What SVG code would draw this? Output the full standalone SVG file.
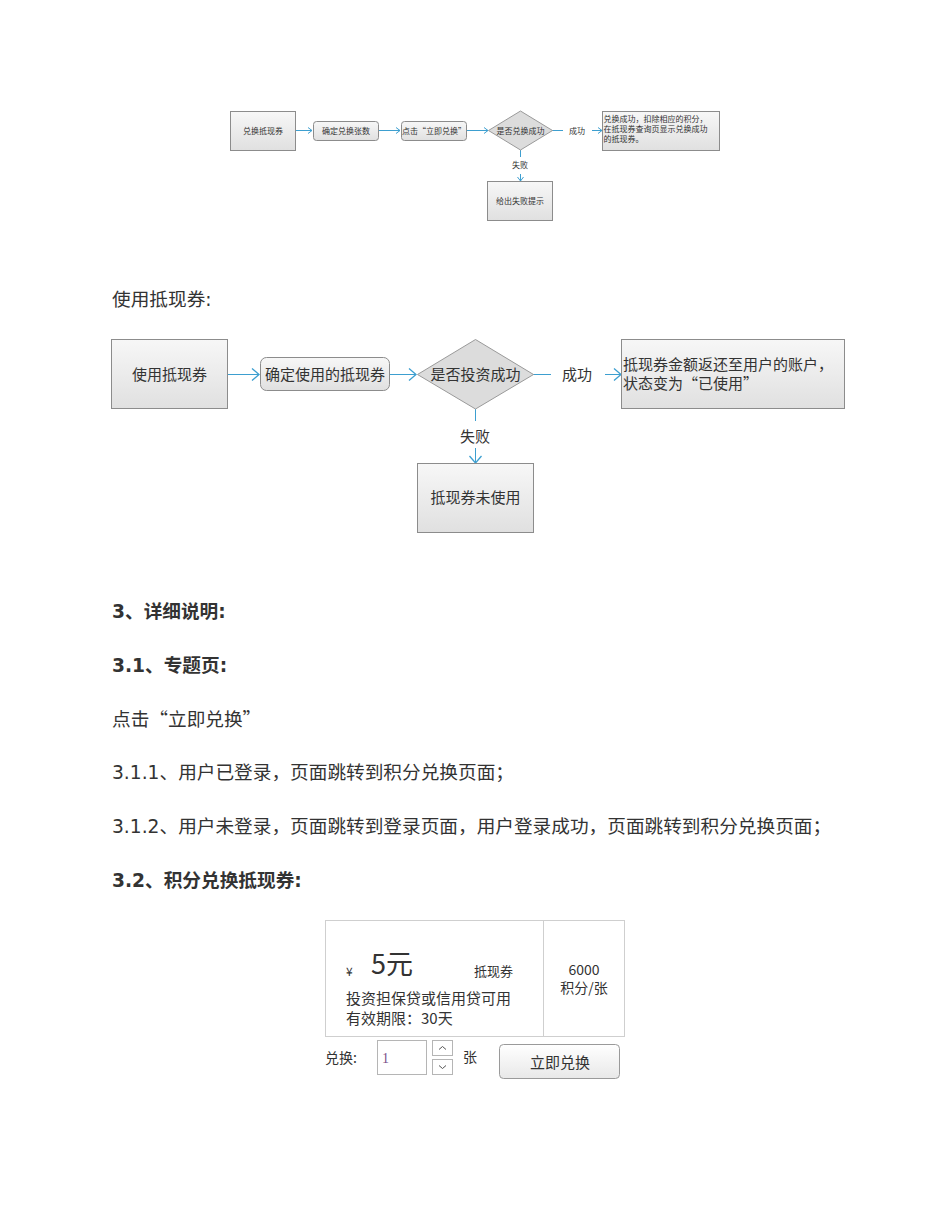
<svg xmlns="http://www.w3.org/2000/svg" width="950" height="1230" viewBox="0 0 950 1230">
<style>
.doc{font-family:"DejaVu Sans","Noto Sans CJK SC",sans-serif;font-size:18.67px;fill:#333}
.b{font-weight:bold}
.cj{font-family:"Noto Sans CJK SC",sans-serif}
.fc{font-family:"Noto Sans CJK SC","Liberation Sans",sans-serif;fill:#333}
.s{font-size:8px}
.l{font-size:15px}
.box{fill:url(#g);stroke:#8c8c8c;stroke-width:1}
.dia{fill:#dcdcdc;stroke:#9a9a9a;stroke-width:1}
.con{stroke:#3d9fd0;stroke-width:1;fill:none}
.ui{font-family:"Noto Sans CJK SC","Liberation Sans",sans-serif;fill:#333}
</style>
<defs>
<linearGradient id="g" x1="0" y1="0" x2="0" y2="1"><stop offset="0" stop-color="#f7f7f7"/><stop offset="1" stop-color="#e0e0e0"/></linearGradient>
<linearGradient id="bt" x1="0" y1="0" x2="0" y2="1"><stop offset="0" stop-color="#ffffff"/><stop offset="1" stop-color="#e8e8e8"/></linearGradient>
<marker id="aS" markerWidth="8" markerHeight="8" refX="5" refY="4" orient="auto" markerUnits="userSpaceOnUse"><path d="M1,1 L5,4 L1,7" fill="none" stroke="#3d9fd0" stroke-width="1"/></marker>
<marker id="aL" markerWidth="12" markerHeight="14" refX="8" refY="7" orient="auto" markerUnits="userSpaceOnUse"><path d="M1,1 L8,7 L1,13" fill="none" stroke="#3d9fd0" stroke-width="1.3"/></marker>
</defs>
<rect width="950" height="1230" fill="#fff"/>

<!-- Flowchart 1 -->
<g id="connectors1">
<line class="con" x1="295" y1="130.5" x2="312" y2="130.5" marker-end="url(#aS)"/>
<line class="con" x1="378" y1="130.5" x2="400" y2="130.5" marker-end="url(#aS)"/>
<line class="con" x1="466" y1="130.5" x2="488" y2="130.5" marker-end="url(#aS)"/>
<line class="con" x1="552" y1="130.5" x2="563" y2="130.5"/>
<line class="con" x1="592" y1="130.5" x2="602" y2="130.5" marker-end="url(#aS)"/>
<line class="con" x1="520.5" y1="150" x2="520.5" y2="157"/>
<line class="con" x1="520.5" y1="174" x2="520.5" y2="181" marker-end="url(#aS)"/>
<text class="fc s" x="577" y="133.5" text-anchor="middle">成功</text>
<text class="fc s" x="520" y="168" text-anchor="middle">失败</text>
</g>
<g id="n1"><rect class="box" x="230.5" y="111.5" width="65" height="39"/><text class="fc s" x="263" y="133.5" text-anchor="middle">兑换抵现券</text></g>
<g id="n2"><rect class="box" x="313.5" y="121.5" width="65" height="19" rx="3"/><text class="fc s" x="346" y="133.5" text-anchor="middle">确定兑换张数</text></g>
<g id="n3"><rect class="box" x="401.5" y="121.5" width="65" height="19" rx="3"/><text class="fc s" x="434" y="133.5" text-anchor="middle">点击“立即兑换”</text></g>
<g id="n4"><polygon class="dia" points="520.5,111 552.5,130.5 520.5,150 488.5,130.5"/><text class="fc s" x="520.5" y="133.5" text-anchor="middle">是否兑换成功</text></g>
<g id="n5"><rect class="box" x="602.5" y="111.5" width="117" height="39"/>
<text class="fc s" x="603.5" y="122">兑换成功，扣除相应的积分，</text>
<text class="fc s" x="603.5" y="132">在抵现券查询页显示兑换成功</text>
<text class="fc s" x="603.5" y="142">的抵现券。</text></g>
<g id="n6"><rect class="box" x="487.5" y="181.5" width="65" height="39"/><text class="fc s" x="520" y="203.5" text-anchor="middle">给出失败提示</text></g>

<text class="doc" x="112" y="306">使用抵现券:</text>

<!-- Flowchart 2 -->
<g id="connectors2">
<line class="con" x1="227" y1="374.5" x2="259" y2="374.5" marker-end="url(#aL)"/>
<line class="con" x1="389" y1="374.5" x2="416" y2="374.5" marker-end="url(#aL)"/>
<line class="con" x1="533" y1="374.5" x2="551" y2="374.5"/>
<line class="con" x1="605" y1="374.5" x2="621" y2="374.5" marker-end="url(#aL)"/>
<line class="con" x1="475.5" y1="409" x2="475.5" y2="421"/>
<line class="con" x1="475.5" y1="448" x2="475.5" y2="463" marker-end="url(#aL)"/>
<text class="fc l" x="577" y="380" text-anchor="middle">成功</text>
<text class="fc l" x="475" y="442" text-anchor="middle">失败</text>
</g>
<g id="m1"><rect class="box" x="111.5" y="339.5" width="116" height="69"/><text class="fc l" x="169.5" y="380" text-anchor="middle">使用抵现券</text></g>
<g id="m2"><rect class="box" x="260.5" y="357.5" width="129" height="33" rx="6"/><text class="fc l" x="325" y="380" text-anchor="middle">确定使用的抵现券</text></g>
<g id="m3"><polygon class="dia" points="475.5,339.5 533.5,374.5 475.5,409 417.5,374.5"/><text class="fc l" x="475.5" y="380" text-anchor="middle">是否投资成功</text></g>
<g id="m4"><rect class="box" x="621.5" y="339.5" width="223" height="69"/>
<text class="fc l" x="623" y="370">抵现券金额返还至用户的账户，</text>
<text class="fc l" x="623" y="389">状态变为“已使用”</text></g>
<g id="m5"><rect class="box" x="417.5" y="463.5" width="116" height="69"/><text class="fc l" x="475.5" y="503" text-anchor="middle">抵现券未使用</text></g>

<!-- Document text -->
<text class="doc b" x="112" y="618">3、详细说明:</text>
<text class="doc b" x="112" y="672">3.1、专题页:</text>
<text class="doc" x="112" y="726">点击<tspan class="cj">“</tspan>立即兑换<tspan class="cj">”</tspan></text>
<text class="doc" x="112" y="779">3.1.1、用户已登录，页面跳转到积分兑换页面；</text>
<text class="doc" x="112" y="833">3.1.2、用户未登录，页面跳转到登录页面，用户登录成功，页面跳转到积分兑换页面；</text>
<text class="doc b" x="112" y="887">3.2、积分兑换抵现券:</text>

<!-- Card UI -->
<g id="card">
<rect x="325.5" y="920.5" width="299" height="116" fill="#fff" stroke="#cfcfcf"/>
<line x1="543.5" y1="920.5" x2="543.5" y2="1036.5" stroke="#cfcfcf"/>
<text class="ui" x="346" y="976" font-size="12">¥</text>
<text class="ui" x="371" y="974" font-size="27">5元</text>
<text class="ui" x="474" y="976" font-size="13">抵现券</text>
<text class="ui" x="346" y="1004" font-size="15">投资担保贷或信用贷可用</text>
<text class="ui" x="346" y="1024" font-size="15">有效期限：30天</text>
<text class="ui" x="584" y="975" font-size="14" text-anchor="middle">6000</text>
<text class="ui" x="584" y="993" font-size="14" text-anchor="middle">积分/张</text>
</g>
<g id="form">
<text class="ui" x="325" y="1063" font-size="14" fill="#555">兑换:</text>
<rect x="377.5" y="1040.5" width="49" height="34" fill="#fff" stroke="#b5b5b5"/>
<text x="382" y="1063" font-family="Liberation Serif,serif" font-size="14" fill="#7a4f8a">1</text>
<rect x="432.5" y="1040.5" width="20" height="15" fill="#fff" stroke="#b5b5b5"/>
<path d="M439,1049.5 L442.5,1046.5 L446,1049.5" fill="none" stroke="#555" stroke-width="1"/>
<rect x="432.5" y="1059.5" width="20" height="15" fill="#fff" stroke="#b5b5b5"/>
<path d="M439,1065.5 L442.5,1068.5 L446,1065.5" fill="none" stroke="#555" stroke-width="1"/>
<text class="ui" x="463" y="1062" font-size="14" fill="#8a9aa8">张</text>
<rect x="499.5" y="1044.5" width="120" height="34" rx="4" fill="url(#bt)" stroke="#9a9a9a"/>
<text class="ui" x="560" y="1068" font-size="15" text-anchor="middle">立即兑换</text>
</g>
</svg>
